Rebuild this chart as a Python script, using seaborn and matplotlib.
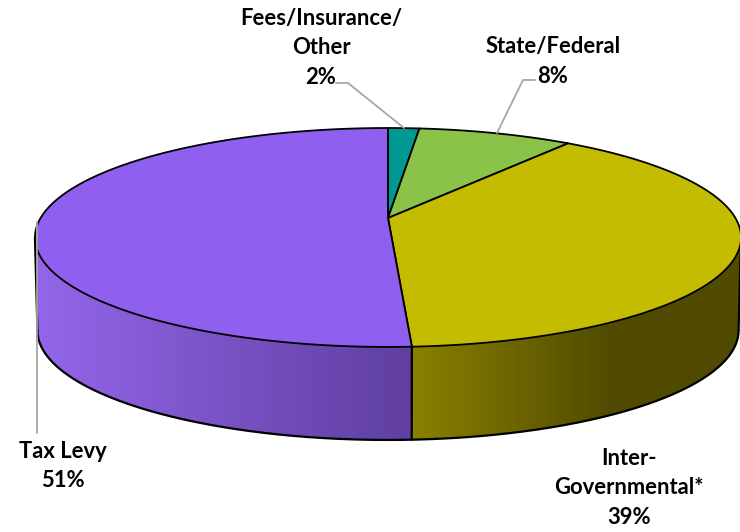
import numpy as np
import pandas as pd
import seaborn as sns
import matplotlib.pyplot as plt
from matplotlib.colors import to_rgb
from matplotlib.patches import Polygon

# %%
names = ["Fees/Insurance/\nOther", "State/Federal", "Inter-\nGovernmental*", "Tax Levy"]
shares = [1.7, 8.4, 39.0, 50.9]
colors = ["#009890", "#8BC34A", "#C4BC00", "#8F5FF0"]
# wall shading, left to right
wall_colors = {2: ("#8A8000", "#504B00"), 3: ("#9366EA", "#5F3F9F")}
wall_fade = {2: (412, 610), 3: (38, 412)}

df = pd.DataFrame({"name": names, "share": shares, "color": colors})
df["start"] = df["share"].cumsum().shift(1).fillna(0) * 3.6
df["stop"] = df["share"].cumsum() * 3.6

# %%
sns.set_theme(style="white")
plt.rcParams["font.family"] = ["Lato", "DejaVu Sans"]

f, ax = plt.subplots(figsize=(7.4, 5.32), dpi=100)
f.subplots_adjust(0, 0, 1, 1)
ax.axis("off")

cx, cy = 388, 218
a, b, k = 347.4, 106, 0.178
depth = 93


def rim(deg, lower=False):
    t = np.radians(deg)
    x, y = np.sin(t), np.cos(t)
    px = cx + a * x / (1 + k * y)
    py = cy - b * y / (1 + k * y)
    if lower:
        px = cx + (px - cx) * 0.993
        py = py + depth
    return px, py


# visible front of the side wall
front_a = np.degrees(np.arccos(-k))
front_b = 360 - front_a

# %%
for i, row in df.iterrows():
    if i not in wall_colors:
        continue
    deg = np.linspace(max(row["start"], front_a), min(row["stop"], front_b), 200)
    x0, y0 = rim(deg)
    x1, y1 = rim(deg[::-1], lower=True)
    xs, ys = np.r_[x0, x1], np.r_[y0, y1]
    c0, c1 = [np.array(to_rgb(c)) for c in wall_colors[i]]
    fade = wall_fade[i]
    grid = np.linspace(xs.min(), xs.max(), 400)
    frac = np.clip((grid - fade[0]) / (fade[1] - fade[0]), 0, 1)[None, :, None]
    img = ax.imshow(c0 + (c1 - c0) * frac, extent=[xs.min(), xs.max(), ys.max(), ys.min()],
                    aspect="auto", zorder=1)
    clip = Polygon(np.c_[xs, ys], closed=True, transform=ax.transData, fc="none", ec="none")
    ax.add_patch(clip)
    img.set_clip_path(clip)

ax.set_xlim(0, 740)
ax.set_ylim(532, 0)

# bottom rim and wall edges
deg = np.linspace(front_a, front_b, 300)
ax.plot(*rim(deg, lower=True), color="black", lw=1.6, zorder=2)
for d in [front_a, df.loc[2, "stop"], front_b]:
    x0, y0 = rim(d)
    x1, y1 = rim(d, lower=True)
    ax.plot([x0, x1], [y0, y1], color="black", lw=1.6, zorder=2)

# %%
for i, row in df.iterrows():
    deg = np.linspace(row["start"], row["stop"], 200)
    x, y = rim(deg)
    ax.fill(np.r_[cx, x], np.r_[cy, y], facecolor=row["color"], edgecolor="black",
            lw=1.3, joinstyle="round", zorder=3)

# %%
grey = "#A6A6A6"
ax.plot([336, 348, 404], [83, 83, 128], color=grey, lw=1.3, zorder=4)
ax.plot([535, 523, 497], [80, 80, 133], color=grey, lw=1.3, zorder=4)
ax.plot([37, 37], [222, 433], color=grey, lw=1.3, zorder=4)

label_pos = [(321, 48), (553, 61.5), (629, 488), (63, 466)]
for (name, share), (lx, ly) in zip(zip(names, shares), label_pos):
    ax.text(lx, ly, f"{name}\n{round(share)}%", ha="center", va="center", fontsize=15.8,
            fontweight="bold", color="black", linespacing=1.5, zorder=5)

plt.savefig("out.png", dpi=100)
